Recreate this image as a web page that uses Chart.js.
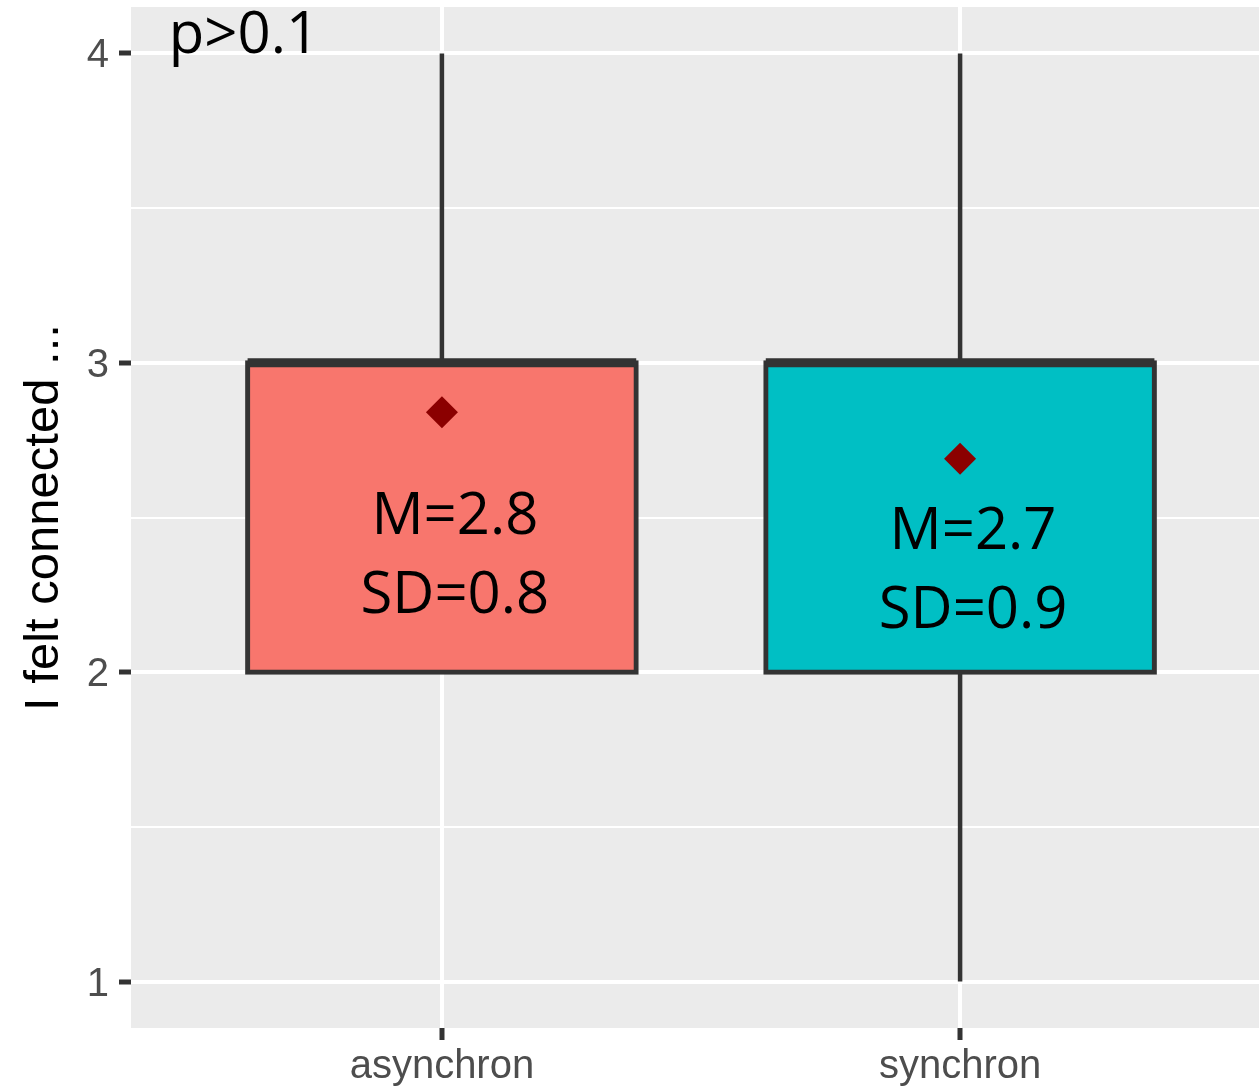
<!DOCTYPE html>
<html>
<head>
<meta charset="utf-8">
<title>I felt connected ...</title>
<script src="https://cdn.jsdelivr.net/npm/chart.js@4"></script>
<style>
  html, body { margin: 0; padding: 0; overflow: hidden; background: #ffffff; }
  canvas { display: block; }
</style>
</head>
<body>
<canvas id="chart" width="1271" height="1092"></canvas>
<script>
// ---- data ----
const categories  = ['asynchron', 'synchron'];
const whiskerLow  = [2, 1];
const boxLow      = [2, 2];
const medians     = [3, 3];
const boxHigh     = [3, 3];
const whiskerHigh = [4, 4];
const means       = [2.84, 2.69];
const sds         = [0.8, 0.9];
const yTicks      = [1, 1.5, 2, 2.5, 3, 3.5, 4];
const yTitle      = 'I felt connected ...';
const pValueText  = 'p>0.1';

// ---- annotation placement (data units) ----
const statLabelCenterY = [2.39, 2.34];
const statLabelNudgeX  = 0.025;
const pValuePos        = { x: 0.618, y: 4.0 };

// ---- geometry / style ----
const boxWidth   = 0.75;
const fills      = ['#F8766D', '#00BFC4'];
const ink        = '#333333';
const axisFont   = '"Liberation Sans", Arial, Helvetica, sans-serif';
const noteFont   = '"Open Sans", "Noto Sans", sans-serif';

// whisker segments: q3 -> upper, lower -> q1 (skipped when zero length)
const whiskerPts = [];
categories.forEach((c, i) => {
  const x = i + 1;
  if (whiskerHigh[i] > boxHigh[i]) {
    whiskerPts.push({ x, y: boxHigh[i] }, { x, y: whiskerHigh[i] }, { x, y: null });
  }
  if (whiskerLow[i] < boxLow[i]) {
    whiskerPts.push({ x, y: whiskerLow[i] }, { x, y: boxLow[i] }, { x, y: null });
  }
});

const medianPts = [];
categories.forEach((c, i) => {
  const x = i + 1;
  medianPts.push({ x: x - boxWidth / 2, y: medians[i] }, { x: x + boxWidth / 2, y: medians[i] }, { x, y: null });
});

const panelBackground = {
  id: 'panelBackground',
  beforeDraw(chart) {
    const { ctx, chartArea: a } = chart;
    ctx.save();
    ctx.fillStyle = '#EBEBEB';
    ctx.fillRect(a.left, a.top, a.right - a.left, a.bottom - a.top);
    ctx.restore();
  }
};

const annotations = {
  id: 'annotations',
  afterDatasetsDraw(chart) {
    const { ctx, scales: { x, y } } = chart;
    ctx.save();
    ctx.fillStyle = '#000000';
    ctx.font = '58px ' + noteFont;
    ctx.textAlign = 'center';
    ctx.textBaseline = 'alphabetic';
    categories.forEach((c, i) => {
      const px = x.getPixelForValue(i + 1 + statLabelNudgeX);
      const pc = y.getPixelForValue(statLabelCenterY[i]);
      ctx.fillText('M=' + means[i].toFixed(1), px, pc - 18);
      ctx.fillText('SD=' + sds[i].toFixed(1), px, pc + 61);
    });
    ctx.fillText(pValueText, x.getPixelForValue(pValuePos.x), y.getPixelForValue(pValuePos.y));
    ctx.restore();
  }
};

const isMajor = v => Number.isInteger(v);

new Chart(document.getElementById('chart'), {
  type: 'bar',
  data: {
    datasets: [
      {
        type: 'line',
        data: whiskerPts,
        borderColor: ink,
        borderWidth: 4.5,
        pointRadius: 0,
        spanGaps: false,
        fill: false,
        order: 3
      },
      {
        type: 'bar',
        data: categories.map((c, i) => ({ x: i + 1, y: [boxLow[i], boxHigh[i]] })),
        backgroundColor: fills,
        borderColor: ink,
        borderWidth: 5,
        borderSkipped: false,
        inflateAmount: 2.5,
        barPercentage: boxWidth,
        categoryPercentage: 1,
        order: 2
      },
      {
        type: 'line',
        data: medianPts,
        borderColor: ink,
        borderWidth: 9,
        borderCapStyle: 'butt',
        pointRadius: 0,
        spanGaps: false,
        fill: false,
        order: 1
      },
      {
        type: 'scatter',
        data: means.map((m, i) => ({ x: i + 1, y: m })),
        backgroundColor: '#8B0000',
        borderWidth: 0,
        pointStyle: 'rectRot',
        pointRadius: 16,
        showLine: false,
        order: 0
      }
    ]
  },
  options: {
    responsive: false,
    animation: false,
    events: [],
    layout: { autoPadding: false, padding: { top: 7, left: 0, right: 0, bottom: 0 } },
    plugins: { legend: { display: false }, tooltip: { enabled: false } },
    scales: {
      x: {
        type: 'linear',
        min: 0.4,
        max: 2.6,
        offset: false,
        border: { display: false },
        grid: {
          offset: false,
          color: '#FFFFFF',
          lineWidth: 4,
          drawTicks: true,
          tickLength: 12,
          tickWidth: 5,
          tickColor: ink
        },
        afterBuildTicks(scale) {
          scale.ticks = categories.map((c, i) => ({ value: i + 1 }));
        },
        ticks: {
          padding: 3,
          autoSkip: false,
          maxRotation: 0,
          color: '#4D4D4D',
          font: { family: axisFont, size: 40 },
          callback: (v, i) => categories[i]
        },
        afterFit(scale) {
          scale.height = 64;
          scale.paddingLeft = 0; scale.paddingRight = 0;
        }
      },
      y: {
        type: 'linear',
        min: 0.85,
        max: 4.15,
        beginAtZero: false,
        border: { display: false },
        grid: {
          color: '#FFFFFF',
          lineWidth: ctx => isMajor(ctx.tick.value) ? 4 : 2,
          drawTicks: true,
          tickLength: 12,
          tickWidth: 5,
          tickColor: ctx => isMajor(ctx.tick.value) ? ink : 'rgba(0,0,0,0)'
        },
        afterBuildTicks(scale) {
          scale.ticks = yTicks.map(v => ({ value: v }));
        },
        ticks: {
          padding: 10,
          labelOffset: 3,
          color: '#4D4D4D',
          font: { family: axisFont, size: 40 },
          callback: v => isMajor(v) ? String(v) : ''
        },
        title: {
          display: true,
          text: yTitle,
          color: '#000000',
          font: { family: axisFont, size: 49 },
          padding: { top: 15, bottom: 0 }
        },
        afterFit(scale) {
          scale.width = 131;
          scale.paddingTop = 0; scale.paddingBottom = 0;
        }
      }
    }
  },
  plugins: [panelBackground, annotations]
});
</script>
</body>
</html>
